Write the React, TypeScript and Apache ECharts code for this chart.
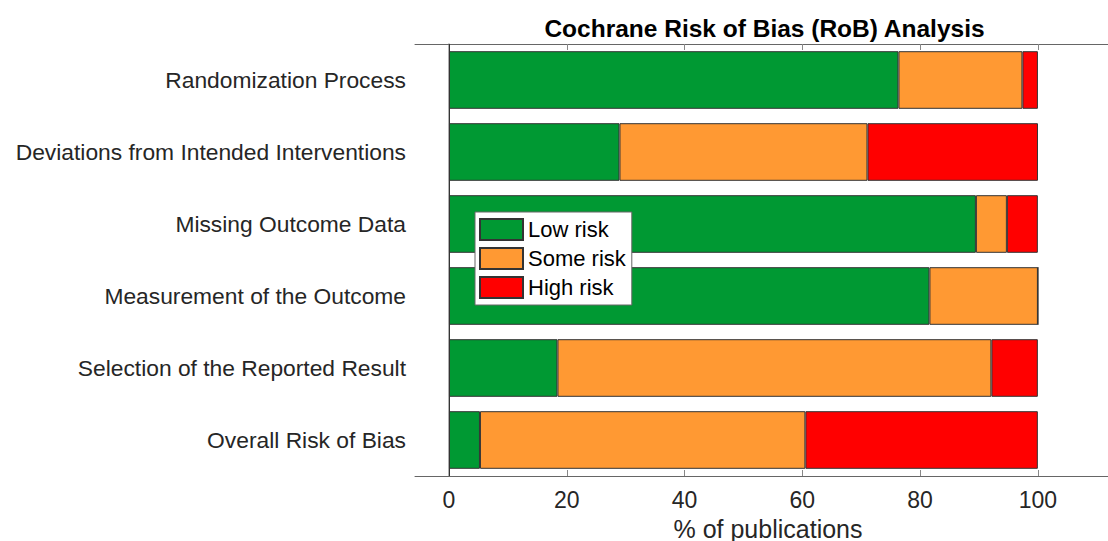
import React, { useEffect, useRef } from "react";
import * as echarts from "echarts";

const categories = [
  "Randomization Process",
  "Deviations from Intended Interventions",
  "Missing Outcome Data",
  "Measurement of the Outcome",
  "Selection of the Reported Result",
  "Overall Risk of Bias",
];
const lowRisk = [76.32, 28.95, 89.47, 81.58, 18.42, 5.26];
const someRisk = [21.05, 42.11, 5.26, 18.42, 73.68, 55.26];
const highRisk = [2.63, 28.95, 5.26, 0, 7.89, 39.47];
const xTicks = [0, 20, 40, 60, 80, 100];
const seriesNames = ["Low risk", "Some risk", "High risk"];
const seriesColors = ["#009933", "#FF9933", "#FF0000"];

const FONT = "'Liberation Sans', Arial, Helvetica, sans-serif";

export default function App() {
  const ref = useRef<HTMLDivElement>(null);
  useEffect(() => {
    if (!ref.current) return;
    const chart = echarts.init(ref.current, undefined, { renderer: "svg" });
    const xMin = -5.77;
    const xMax = 111.9;
    const data = [lowRisk, someRisk, highRisk];
    chart.setOption({
      animation: false,
      backgroundColor: "#ffffff",
      textStyle: { fontFamily: FONT },
      grid: {
        left: 415,
        top: 44,
        right: 0,
        bottom: 65,
        containLabel: false,
        outerBoundsMode: "none",
      },
      legend: {
        data: seriesNames,
        orient: "vertical",
        left: 475,
        top: 212,
        padding: [6, 6, 6, 4],
        itemWidth: 43,
        itemHeight: 21,
        itemGap: 6,
        icon: "rect",
        backgroundColor: "#ffffff",
        borderColor: "#666666",
        borderWidth: 1,
        borderRadius: 0,
        selectedMode: false,
        textStyle: { fontSize: 22, color: "#000000", fontFamily: FONT },
      },
      xAxis: [
        {
          type: "value",
          position: "bottom",
          min: xMin,
          max: xMax,
          splitLine: { show: false },
          axisLine: { show: true, onZero: false, lineStyle: { color: "#666666", width: 1 } },
          axisTick: {
            show: true,
            inside: true,
            length: 6,
            customValues: xTicks,
            lineStyle: { color: "#888888" },
          },
          axisLabel: {
            show: true,
            customValues: xTicks,
            fontSize: 23,
            color: "#262626",
            margin: 12,
            fontFamily: FONT,
          },
          name: "% of publications",
          nameLocation: "middle",
          nameGap: 40,
          nameTextStyle: {
            fontSize: 25,
            color: "#262626",
            fontFamily: FONT,
            padding: [0, 0, 0, 13],
          },
        },
        {
          type: "value",
          position: "top",
          min: xMin,
          max: xMax,
          splitLine: { show: false },
          axisLine: { show: true, onZero: false, lineStyle: { color: "#666666", width: 1 } },
          axisTick: {
            show: true,
            inside: true,
            length: 6,
            customValues: xTicks,
            lineStyle: { color: "#888888" },
          },
          axisLabel: { show: false },
        },
      ],
      yAxis: {
        type: "category",
        data: categories,
        inverse: true,
        axisLine: { show: true, lineStyle: { color: "#999999", width: 1.5 } },
        axisTick: { show: true, inside: true, length: 6, alignWithLabel: true, lineStyle: { color: "#888888" } },
        axisLabel: { fontSize: 22.8, color: "#262626", margin: 9, fontFamily: FONT },
        splitLine: { show: false },
      },
      graphic: [
        {
          type: "text",
          x: 764.5,
          y: 28.5,
          style: {
            text: "Cochrane Risk of Bias (RoB) Analysis",
            fontSize: 24.5,
            fontWeight: "bold",
            fontFamily: FONT,
            fill: "#000000",
            textAlign: "center",
            textVerticalAlign: "middle",
          },
        },
      ],
      series: seriesNames.map((name, i) => ({
        name,
        type: "bar",
        stack: "rob",
        xAxisIndex: 0,
        barWidth: "80%",
        data: data[i],
        itemStyle: { color: seriesColors[i], borderColor: "#333333", borderWidth: 1 },
        emphasis: { disabled: true },
        ...(i === 0
          ? {
              markLine: {
                silent: true,
                symbol: ["none", "none"],
                label: { show: false },
                lineStyle: { color: "#333333", type: "solid", width: 1 },
                data: [{ xAxis: 0 }],
              },
            }
          : {}),
      })),
    });
    return () => chart.dispose();
  }, []);
  return (
    <div
      ref={ref}
      style={{ position: "fixed", left: 0, top: 0, width: 1108, height: 541 }}
    />
  );
}
